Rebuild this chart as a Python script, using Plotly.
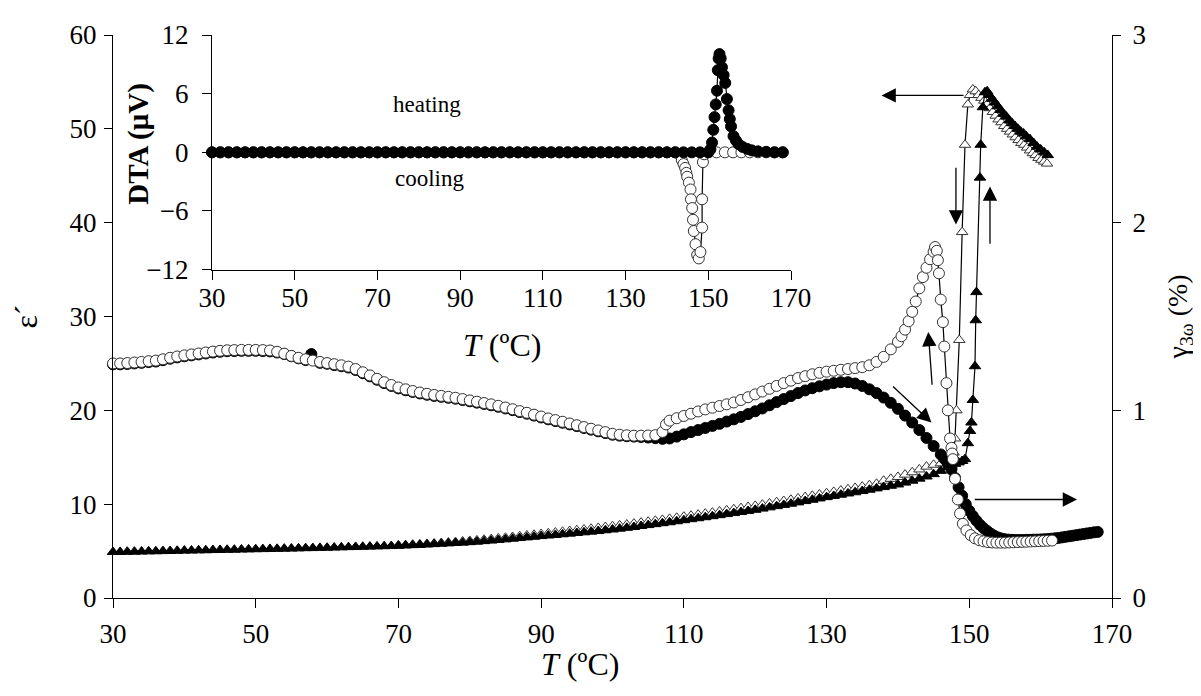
import plotly.graph_objects as go

# ---------------- data: main plot ----------------
# epsilon' (left axis), heating (filled triangles)
eps_heat_T = [30,31,32,33,34,35,36,37,38,39,40,41,42,43,44,45,46,47,48,49,50,51,52,53,54,55,56,57,58,59,
              60,61,62,63,64,65,66,67,68,69,70,71,72,73,74,75,76,77,78,79,80,81,82,83,84,85,86,87,88,89,
              90,91,92,93,94,95,96,97,98,99,100,101,102,103,104,105,106,107,108,109,110,111,112,113,114,
              115,116,117,118,119,120,121,122,123,124,125,126,127,128,129,130,131,132,133,134,135,136,137,
              138,139,140,141,142,143,144,145,146,147,147.5,148,148.5,149,149.4,149.8,150.1,150.3,150.5,
              150.8,150.9,151.0,151.5,151.6,151.9,152.2,152.5,152.8,153.2,153.6,154.0,154.4,154.8,155.2,
              155.6,156.0,156.4,156.8,157.2,157.6,158.0,158.5,159.0,159.5,160.0,160.5,161.0]
eps_heat = [4.90,4.91,4.93,4.94,4.95,4.97,4.98,5.00,5.01,5.03,5.05,5.06,5.08,5.09,5.11,5.12,5.14,5.15,5.17,5.18,
            5.20,5.21,5.23,5.24,5.26,5.27,5.29,5.31,5.32,5.34,5.36,5.38,5.40,5.42,5.44,5.46,5.48,5.50,5.52,5.54,
            5.57,5.60,5.63,5.66,5.70,5.74,5.78,5.82,5.86,5.90,5.95,6.00,6.06,6.12,6.18,6.25,6.32,6.39,6.46,6.53,
            6.60,6.66,6.72,6.79,6.86,6.93,7.00,7.07,7.14,7.22,7.30,7.39,7.48,7.57,7.67,7.77,7.87,7.97,8.07,8.18,
            8.29,8.40,8.50,8.61,8.72,8.83,8.94,9.05,9.16,9.28,9.40,9.53,9.66,9.79,9.92,10.05,10.19,10.33,10.47,
            10.61,10.75,10.88,11.01,11.14,11.27,11.40,11.54,11.68,11.82,11.96,12.10,12.30,12.50,12.72,12.95,
            13.20,13.55,13.95,14.10,14.30,14.45,14.60,14.80,16.50,17.80,18.70,21.10,24.70,29.60,32.60,44.80,
            48.30,52.30,53.90,54.00,53.60,53.20,52.80,52.40,52.00,51.60,51.30,50.90,50.60,50.30,50.00,49.70,
            49.50,49.20,48.90,48.50,48.10,47.80,47.50,47.20]

# epsilon' (left axis), cooling (open triangles)
eps_cool_T = [70,71,72,73,74,75,76,77,78,79,80,81,82,83,84,85,86,87,88,89,90,91,92,93,94,95,96,97,98,99,
              100,101,102,103,104,105,106,107,108,109,110,111,112,113,114,115,116,117,118,119,120,121,122,
              123,124,125,126,127,128,129,130,131,132,133,134,135,136,137,138,139,140,141,142,143,144,145,
              146,147,147.5,147.8,148.0,148.2,148.6,149.0,149.4,149.8,150.1,150.5,150.9,151.3,151.7,152.1,
              152.5,152.9,153.3,153.7,154.1,154.5,154.9,155.3,155.7,156.1,156.5,156.9,157.3,157.7,158.1,
              158.5,158.9,159.3,159.7,160.1,160.5,160.9]
eps_cool = [5.60,5.64,5.68,5.72,5.76,5.81,5.86,5.91,5.96,6.02,6.08,6.14,6.21,6.28,6.35,6.42,6.50,6.58,6.66,6.74,
            6.82,6.90,6.98,7.06,7.14,7.22,7.30,7.38,7.47,7.56,7.65,7.74,7.83,7.93,8.03,8.13,8.23,8.33,8.44,8.55,
            8.66,8.77,8.88,8.99,9.10,9.22,9.34,9.46,9.58,9.70,9.82,9.95,10.08,10.21,10.34,10.47,10.61,10.75,
            10.89,11.03,11.17,11.31,11.45,11.59,11.73,11.87,12.02,12.17,12.50,12.70,12.90,13.15,13.40,13.70,
            14.00,14.20,14.35,14.50,14.80,15.50,17.00,20.00,27.50,39.00,48.30,52.60,53.60,54.20,54.00,53.60,
            53.30,53.00,52.60,52.20,51.80,51.40,51.00,50.70,50.30,50.00,49.70,49.40,49.10,48.80,48.50,48.30,
            48.00,47.70,47.40,47.20,46.90,46.70,46.50,46.30]

# gamma_3omega (right axis), heating (filled circles)
gam_heat_T = [30,31,32,33,34,35,36,37,38,39,40,41,42,43,44,45,46,47,48,49,50,51,52,53,54,55,56,57,57.8,59,
              60,61,62,63,64,65,66,67,68,69,70,71,72,73,74,75,76,77,78,79,80,81,82,83,84,85,86,87,88,89,
              90,91,92,93,94,95,96,97,98,99,100,101,102,103,104,105,106,107,108,109,110,111,112,113,114,
              115,116,117,118,119,120,121,122,123,124,125,126,127,128,129,130,131,132,133,134,135,136,137,
              138,139,140,141,142,143,144,145,146,146.5,147,147.5,148,148.5,149,149.5,150,150.5,151,151.5,
              152,152.5,153,153.5,154,154.5,155,155.5,156,156.5,157,157.5,158,158.5,159,159.5,160,160.5,
              161,161.5,162,162.5,163,163.5,164,164.5,165,165.5,166,166.5,167,167.5,168]
gam_heat = [1.245,1.245,1.247,1.250,1.253,1.257,1.260,1.267,1.275,1.282,1.288,1.293,1.298,1.303,1.308,1.312,
            1.315,1.316,1.317,1.317,1.317,1.316,1.314,1.308,1.300,1.288,1.277,1.268,1.300,1.253,1.248,1.241,
            1.235,1.228,1.215,1.198,1.181,1.163,1.145,1.130,1.117,1.107,1.098,1.090,1.083,1.077,1.072,1.067,
            1.062,1.055,1.048,1.041,1.034,1.027,1.019,1.010,1.001,0.991,0.982,0.972,0.962,0.952,0.943,0.934,
            0.925,0.916,0.906,0.897,0.888,0.879,0.870,0.865,0.862,0.860,0.858,0.855,0.852,0.848,0.850,0.860,
            0.872,0.884,0.895,0.906,0.917,0.928,0.940,0.952,0.965,0.980,0.995,1.010,1.027,1.044,1.060,1.076,
            1.092,1.106,1.118,1.128,1.137,1.145,1.150,1.150,1.143,1.130,1.112,1.092,1.068,1.040,1.008,0.972,
            0.935,0.895,0.853,0.810,0.765,0.742,0.715,0.685,0.640,0.590,0.545,0.500,0.465,0.437,0.412,0.390,
            0.372,0.357,0.343,0.332,0.323,0.317,0.313,0.311,0.310,0.309,0.309,0.309,0.310,0.310,0.311,0.311,
            0.312,0.313,0.314,0.316,0.318,0.320,0.323,0.326,0.329,0.332,0.335,0.338,0.341,0.344,0.347,0.350,
            0.352]

# gamma_3omega (right axis), cooling (open circles)
gam_cool_T = [30,31,32,33,34,35,36,37,38,39,40,41,42,43,44,45,46,47,48,49,50,51,52,53,54,55,56,57,58,59,
              60,61,62,63,64,65,66,67,68,69,70,71,72,73,74,75,76,77,78,79,80,81,82,83,84,85,86,87,88,89,
              90,91,92,93,94,95,96,97,98,99,100,101,102,103,104,105,106,107,107.5,108,109,110,111,112,113,
              114,115,116,117,118,119,120,121,122,123,124,125,126,127,128,129,130,131,132,133,134,135,136,
              137,138,139,140,140.5,141,141.5,142,142.5,143,143.5,144,144.5,145,145.2,145.45,145.6,145.75,
              146.0,146.3,146.5,146.8,147.0,147.3,147.5,147.6,147.7,148.0,148.4,148.7,149.1,149.6,150.2,
              150.8,151.4,152.0,152.6,153.2,153.8,154.4,155.0,155.6,156.2,156.8,157.4,158.0,158.6,159.2,
              159.8,160.4,161.0,161.6]
gam_cool = [1.250,1.250,1.252,1.255,1.258,1.262,1.265,1.272,1.280,1.287,1.293,1.298,1.303,1.308,1.313,1.317,
            1.320,1.321,1.322,1.322,1.322,1.321,1.319,1.312,1.302,1.290,1.280,1.272,1.265,1.258,1.252,1.246,
            1.240,1.233,1.220,1.203,1.186,1.168,1.150,1.135,1.122,1.112,1.103,1.095,1.088,1.082,1.077,1.072,
            1.067,1.060,1.053,1.046,1.039,1.032,1.024,1.015,1.006,0.996,0.987,0.977,0.967,0.957,0.948,0.939,
            0.930,0.921,0.911,0.902,0.893,0.884,0.875,0.870,0.867,0.865,0.865,0.866,0.868,0.885,0.925,0.945,
            0.958,0.970,0.982,0.994,1.005,1.014,1.023,1.032,1.042,1.055,1.070,1.085,1.100,1.115,1.130,1.145,
            1.158,1.172,1.182,1.192,1.200,1.206,1.211,1.216,1.220,1.225,1.230,1.240,1.258,1.285,1.325,1.365,
            1.395,1.430,1.475,1.525,1.580,1.650,1.710,1.760,1.805,1.845,1.870,1.850,1.800,1.730,1.590,1.470,
            1.340,1.145,1.000,0.850,0.800,0.770,0.740,0.635,0.525,0.450,0.395,0.360,0.335,0.318,0.308,0.302,
            0.298,0.296,0.295,0.295,0.295,0.296,0.297,0.298,0.299,0.300,0.301,0.302,0.303,0.304,0.305,0.306]

# ---------------- data: DTA inset ----------------
dta_heat_T = [30,32,34,36,38,40,42,44,46,48,50,52,54,56,58,60,62,64,66,68,70,72,74,76,78,80,82,84,86,88,
              90,92,94,96,98,100,102,104,106,108,110,112,114,116,118,120,122,124,126,128,130,132,134,136,
              138,140,142,144,146,148,150,150.5,150.9,151.2,151.5,151.8,152.1,152.3,152.5,152.7,153.0,153.3,
              153.7,154.1,154.5,154.9,155.2,155.5,156.1,156.7,157.3,158.3,159.4,160.5,162,164,166,168]
dta_heat = [0,0,0,0,0,0,0,0,0,0,0,0,0,0,0,0,0,0,0,0,0,0,0,0,0,0,0,0,0,0,
            0,0,0,0,0,0,0,0,0,0,0,0,0,0,0,0,0,0,0,0,0,0,0,0,
            0,0,0,0,0,0,0,0.3,1.0,2.3,3.6,4.9,6.3,8.4,9.6,10.05,9.6,8.7,
            7.9,7.1,5.45,4.3,3.4,2.65,1.65,1.2,0.84,0.55,0.35,0.2,0.1,0.05,0,0]

dta_cool_T = [30,32,34,36,38,40,42,44,46,48,50,52,54,56,58,60,62,64,66,68,70,72,74,76,78,80,82,84,86,88,
              90,92,94,96,98,100,102,104,106,108,110,112,114,116,118,120,122,124,126,128,130,132,134,136,
              138,140,142,143.0,143.6,144.0,144.4,144.7,144.9,145.3,145.7,145.8,146.1,146.3,146.5,146.9,
              147.3,147.7,148.1,148.5,148.5,148.7,149.0,150,152,154,156,158,160,162,164,166,168]
dta_cool = [0,0,0,0,0,0,0,0,0,0,0,0,0,0,0,0,0,0,0,0,0,0,0,0,0,0,0,0,0,0,
            0,0,0,0,0,0,0,0,0,0,0,0,0,0,0,0,0,0,0,0,0,0,0,0,
            0,0,0,-0.2,-0.8,-1.2,-1.6,-2.1,-2.5,-3.1,-3.8,-4.8,-5.7,-6.9,-8.05,-9.4,
            -10.5,-10.85,-10.2,-7.7,-4.8,-1.0,-0.2,0,0,0,0,0,0,0,0,0,0]

main_xticks = [30, 50, 70, 90, 110, 130, 150, 170]
left_yticks = [0, 10, 20, 30, 40, 50, 60]
right_yticks = [0, 1, 2, 3]
inset_yticks = [-12, -6, 0, 6, 12]

FONT = "Liberation Serif"
BLK = "#000000"
OUT = "#333333"

fig = go.Figure()

# main: triangles (left axis)
fig.add_trace(go.Scatter(x=eps_cool_T, y=eps_cool, mode="lines+markers", xaxis="x", yaxis="y",
                         line=dict(color=BLK, width=1.2),
                         marker=dict(symbol="triangle-up", size=10, color="white", line=dict(color=OUT, width=1)),
                         cliponaxis=False, showlegend=False))
fig.add_trace(go.Scatter(x=eps_heat_T, y=eps_heat, mode="lines+markers", xaxis="x", yaxis="y",
                         line=dict(color=BLK, width=1.2),
                         marker=dict(symbol="triangle-up", size=10, color=BLK, line=dict(color=BLK, width=1)),
                         cliponaxis=False, showlegend=False))
# main: circles (right axis)
fig.add_trace(go.Scatter(x=gam_heat_T, y=gam_heat, mode="lines+markers", xaxis="x", yaxis="y2",
                         line=dict(color=BLK, width=1.2),
                         marker=dict(symbol="circle", size=11, color=BLK, line=dict(color=BLK, width=1)),
                         cliponaxis=False, showlegend=False))
fig.add_trace(go.Scatter(x=gam_cool_T, y=gam_cool, mode="lines+markers", xaxis="x", yaxis="y2",
                         line=dict(color=BLK, width=1.2),
                         marker=dict(symbol="circle", size=11, color="white", line=dict(color=OUT, width=1)),
                         cliponaxis=False, showlegend=False))
# inset DTA
fig.add_trace(go.Scatter(x=dta_cool_T, y=dta_cool, mode="lines+markers", xaxis="x3", yaxis="y3",
                         line=dict(color=BLK, width=1.2),
                         marker=dict(symbol="circle", size=11, color="white", line=dict(color=OUT, width=1)),
                         cliponaxis=False, showlegend=False))
fig.add_trace(go.Scatter(x=dta_heat_T, y=dta_heat, mode="lines+markers", xaxis="x3", yaxis="y3",
                         line=dict(color=BLK, width=1.2),
                         marker=dict(symbol="circle", size=11, color=BLK, line=dict(color=BLK, width=1)),
                         cliponaxis=False, showlegend=False))

tickfont = dict(family=FONT, size=27, color=BLK)
axis_common = dict(showline=True, linecolor=BLK, linewidth=1, ticks="outside", tickcolor=BLK,
                   tickwidth=1, showgrid=False, zeroline=False, tickfont=tickfont)

# the page body has an 8 px margin, so the figure is sized/placed to compensate
fig.update_layout(
    width=1193, height=688,
    margin=dict(l=105, r=89, t=19, b=98),
    paper_bgcolor="white", plot_bgcolor="white",
    font=dict(family=FONT, color=BLK),
    xaxis=dict(domain=[0, 1], range=[30, 170], tickmode="array", tickvals=main_xticks,
               anchor="y", ticklen=9, ticklabelstandoff=3, **axis_common),
    yaxis=dict(range=[0, 60], tickmode="array", tickvals=left_yticks, anchor="x",
               ticklen=8, ticklabelstandoff=2, **axis_common),
    yaxis2=dict(range=[0, 3], tickmode="array", tickvals=right_yticks, overlaying="y", side="right",
                anchor="x", ticklen=8, ticklabelstandoff=6, **axis_common),
    xaxis3=dict(domain=[0.0991, 0.6787], range=[30, 170], tickmode="array", tickvals=main_xticks,
                anchor="y3", ticklen=9, ticklabelstandoff=-5, **axis_common),
    yaxis3=dict(domain=[0.5832, 1.0], range=[-12, 12], tickmode="array", tickvals=inset_yticks,
                anchor="x3", ticklen=9, ticklabelstandoff=8, **axis_common),
)

annos = []
def txt(x, y, text, size, angle=0):
    annos.append(dict(x=x, y=y, xref="paper", yref="paper", text=text, showarrow=False,
                      xanchor="center", yanchor="middle", textangle=angle,
                      font=dict(family=FONT, size=size, color=BLK)))

txt(0.4675, -0.117, "<i>T</i> (ºC)", 32)
txt(-0.088, 0.50, "ε´", 32, -90)
txt(1.068, 0.50, "γ<sub>3ω</sub> (%)", 28, -90)
txt(0.389, 0.449, "<i>T</i> (ºC)", 32)
txt(0.026, 0.807, "<b>DTA (μV)</b>", 29, -90)
txt(0.3143, 0.877, "heating", 23)
txt(0.317, 0.745, "cooling", 23)

def arrow(x, y, ax, ay):
    annos.append(dict(x=x, y=y, ax=ax, ay=ay, xref="x", yref="y", axref="x", ayref="y",
                      text="", showarrow=True, arrowhead=2, arrowsize=2.2, arrowwidth=1.3,
                      arrowcolor=BLK, standoff=0, startstandoff=0))

arrow(137.7, 53.56, 149.4, 53.56)     # left-pointing at top
arrow(148.13, 39.8, 148.13, 46.0)     # down
arrow(152.9, 43.85, 152.9, 37.6)      # up, right
arrow(144.25, 28.34, 144.81, 22.56)   # up, near hump
arrow(144.7, 18.7, 139.1, 22.7)       # diagonal down-right
arrow(165.1, 10.5, 150.56, 10.5)      # right-pointing

fig.update_layout(annotations=annos)
fig.write_html("out.html")
